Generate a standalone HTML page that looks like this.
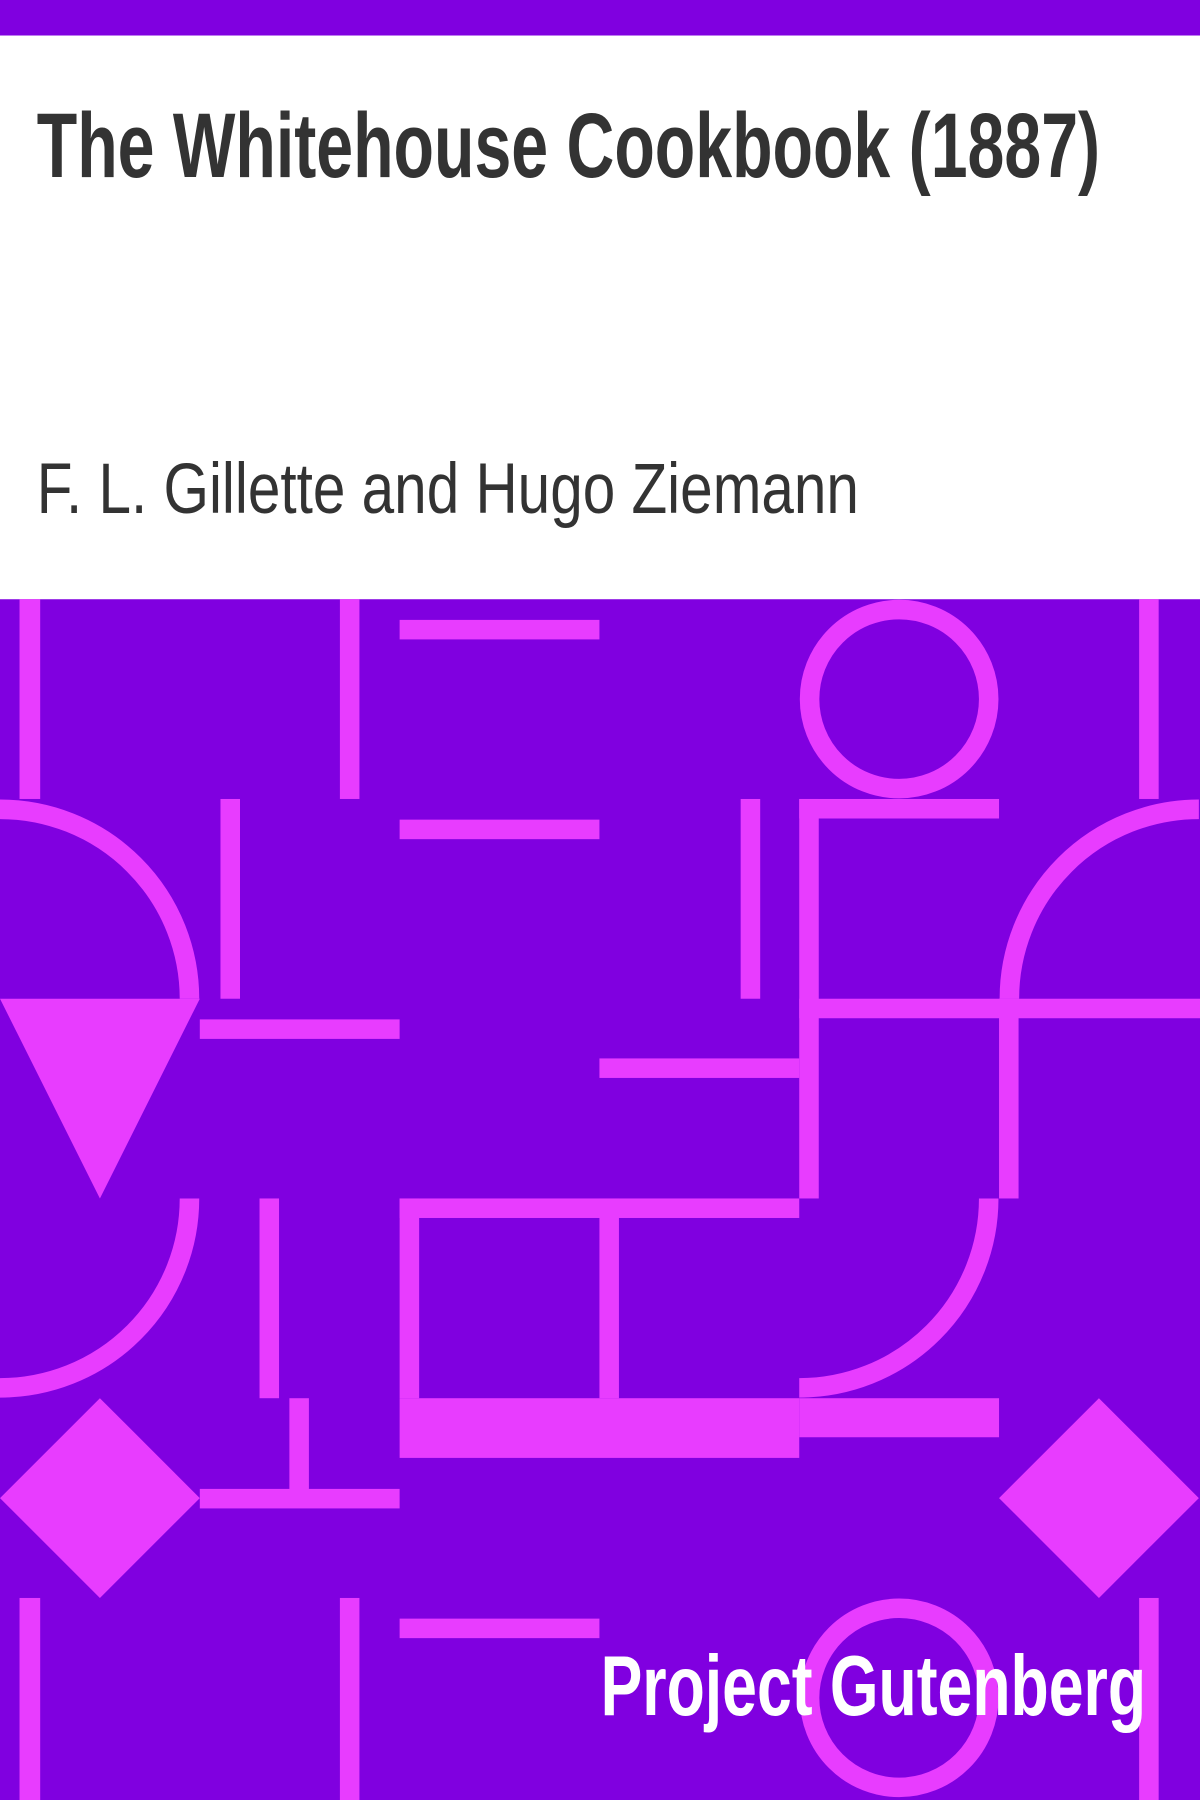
<!DOCTYPE html>
<html><head><meta charset="utf-8">
<style>
html,body{margin:0;padding:0;width:1200px;height:1800px;overflow:hidden;background:#fff}
svg{display:block}
</style></head>
<body>
<svg width="1200" height="1800" viewBox="0 0 1045 1568" xmlns="http://www.w3.org/2000/svg" preserveAspectRatio="none">
  <rect x="0" y="0" width="1045" height="31" fill="#8000e0"/>
  <rect x="0" y="31" width="1045" height="491" fill="#ffffff"/>
  <text x="32" y="154" font-family="Liberation Sans, sans-serif" font-weight="bold" font-size="80" fill="#333" textLength="926" lengthAdjust="spacingAndGlyphs">The Whitehouse Cookbook (1887)</text>
  <text x="32" y="447" font-family="Liberation Sans, sans-serif" font-size="62" fill="#333" textLength="716" lengthAdjust="spacingAndGlyphs">F. L. Gillette and Hugo Ziemann</text>

  <g>
    <rect x="0" y="522" width="1045" height="1046" fill="#8000e0"/>
    <g fill="#e83cff">
      <rect x="17" y="522" width="18" height="174"/>
      <rect x="296" y="522" width="17" height="174"/>
      <rect x="348" y="540" width="174" height="17"/>
      <rect x="348" y="714" width="174" height="17"/>
      <rect x="992" y="522" width="17" height="174"/>
      <rect x="192" y="696" width="17" height="174"/>
      <rect x="174" y="888" width="174" height="17"/>
      <rect x="645" y="696" width="17" height="174"/>
      <rect x="696" y="696" width="17" height="348"/>
      <rect x="696" y="696" width="174" height="17"/>
      <rect x="696" y="870" width="349" height="17"/>
      <rect x="870" y="870" width="17" height="174"/>
      <rect x="522" y="922" width="174" height="17"/>
      <rect x="226" y="1044" width="17" height="174"/>
      <rect x="348" y="1044" width="348" height="17"/>
      <rect x="348" y="1044" width="17" height="174"/>
      <rect x="522" y="1044" width="17" height="174"/>
      <rect x="348" y="1218" width="348" height="52"/>
      <rect x="696" y="1218" width="174" height="34"/>
      <rect x="252" y="1218" width="17" height="87"/>
      <rect x="174" y="1297" width="174" height="17"/>
      <rect x="17" y="1392" width="18" height="176"/>
      <rect x="296" y="1392" width="17" height="176"/>
      <rect x="348" y="1410" width="174" height="17"/>
      <rect x="992" y="1392" width="17" height="176"/>
      <polygon points="0,870 174,870 87,1044"/>
      <polygon points="87,1218 174,1305 87,1392 0,1305"/>
      <polygon points="957,1218 1044,1305 957,1392 870,1305"/>
    </g>
    <g fill="none" stroke="#e83cff" stroke-width="17">
      <circle cx="783" cy="609" r="78"/>
      <circle cx="783" cy="1479" r="78"/>
      <path d="M0,705 A165,165 0 0 1 165,870"/>
      <path d="M879,870 A165,165 0 0 1 1044,705"/>
      <path d="M165,1044 A165,165 0 0 1 0,1209"/>
      <path d="M861,1044 A165,165 0 0 1 696,1209"/>
    </g>
  </g>
  <text x="523" y="1494" font-family="Liberation Sans, sans-serif" font-weight="bold" font-size="74" fill="#ffffff" textLength="475" lengthAdjust="spacingAndGlyphs">Project Gutenberg</text>
</svg>
</body></html>
